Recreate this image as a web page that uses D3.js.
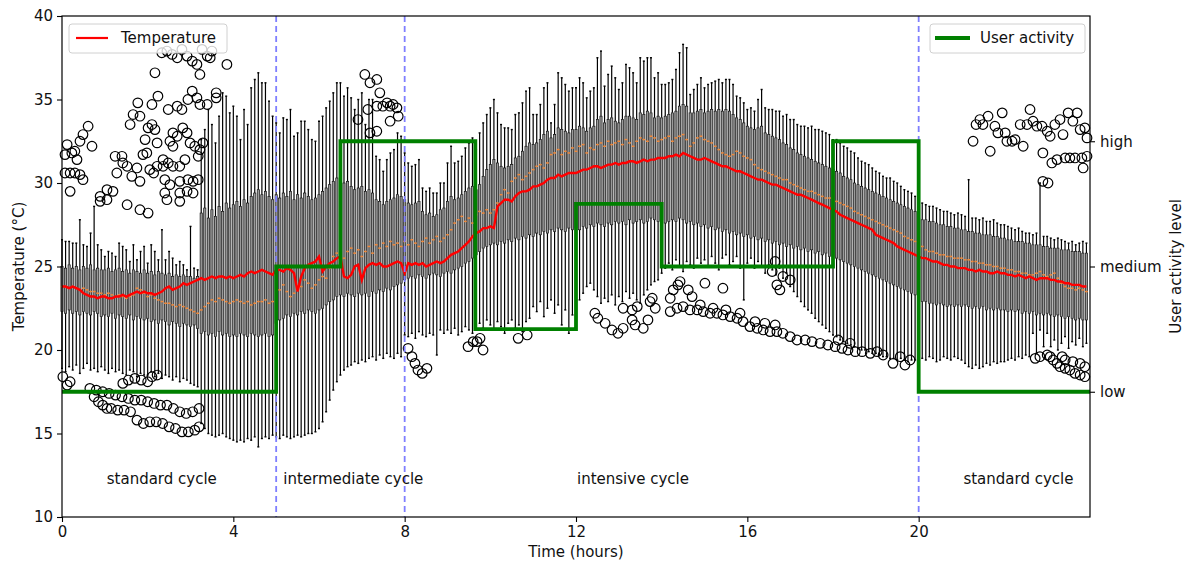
<!DOCTYPE html>
<html>
<head>
<meta charset="utf-8">
<script src="https://cdn.jsdelivr.net/npm/d3@7"></script>
<style>
body { margin: 0; background: #fff; }
text { font-family: "DejaVu Sans", sans-serif; }
</style>
</head>
<body>
<div id="chart"></div>
<script>
var svgWidth = 1188;
var svgHeight = 564;

var margin = { top: 16, right: 98, bottom: 47, left: 62 };
var width = svgWidth - margin.left - margin.right;
var height = svgHeight - margin.top - margin.bottom;

// ---- data (one box every 5 minutes, 12 per hour row) ----
const hourTicks = [0, 4, 8, 12, 16, 20];
const tempTicks = [10, 15, 20, 25, 30, 35, 40];
const activityNames = ["low", "medium", "high"];

const whiskerHigh = [
  26.6,26.5,26.5,26.4,26.4,27.8,26.3,26.2,27.0,28.6,26.3,26.0,
  25.6,25.9,25.8,25.6,26.4,26.2,26.0,25.3,26.3,25.4,25.9,26.2,
  25.2,26.3,25.9,25.4,27.2,25.4,25.9,25.5,25.1,25.3,25.1,24.8,
  27.4,24.9,24.8,32.6,33.2,34.4,33.5,32.4,34.0,35.4,35.2,34.2,
  34.6,34.0,32.6,34.4,33.5,35.7,36.2,36.6,36.0,36.0,34.9,34.0,
  33.6,33.0,33.9,33.8,34.4,32.8,33.0,33.7,33.7,33.2,32.6,32.5,
  33.7,34.0,34.5,34.9,35.4,36.0,36.0,35.2,35.7,35.1,34.4,35.0,
  35.4,33.5,35.0,35.0,31.6,31.4,30.7,31.4,31.8,32.0,33.0,32.8,
  31.8,31.2,31.0,31.1,31.4,29.7,29.5,29.7,29.4,29.4,30.0,30.0,
  31.2,32.2,31.2,31.3,31.6,32.1,32.4,32.7,32.0,33.0,33.6,34.1,
  34.5,35.0,34.2,33.5,33.3,33.3,33.2,34.1,34.2,34.8,35.5,35.7,
  34.1,34.1,34.7,35.7,36.0,33.6,34.7,36.6,36.3,35.9,35.5,35.7,
  35.7,36.3,36.0,35.1,35.5,35.7,37.5,37.9,35.8,36.5,37.0,36.3,
  35.6,36.0,37.1,36.9,36.6,36.0,37.5,37.3,37.5,37.5,36.3,36.6,
  35.9,35.9,36.0,36.2,36.8,37.8,38.3,38.1,35.3,35.6,35.9,36.3,
  35.7,35.9,36.0,36.1,36.2,36.0,36.2,36.2,35.9,35.2,35.1,34.8,
  34.4,34.5,34.3,35.0,35.6,34.5,34.4,34.4,34.3,34.3,34.0,34.1,
  33.8,33.8,33.5,33.4,33.4,33.3,33.4,33.2,33.2,33.1,33.0,32.9,
  32.6,32.6,32.4,32.2,32.1,31.9,31.8,31.5,31.3,31.2,31.1,30.9,
  30.7,30.6,30.4,30.3,30.3,30.1,30.0,29.8,29.6,29.5,29.4,29.2,
  28.9,28.8,28.7,28.6,28.6,28.5,28.4,28.3,28.3,28.2,28.1,28.2,
  28.1,28.0,30.2,27.9,27.9,27.8,27.9,27.7,27.7,27.8,27.6,27.5,
  27.5,27.4,27.3,27.2,27.3,27.1,27.0,27.0,26.9,27.0,30.0,26.8,
  26.8,26.7,26.6,26.7,26.6,26.5,26.4,26.5,26.3,26.4,26.5,26.4
];

const quartile3 = [
  25.0,24.9,25.1,24.9,25.0,24.8,25.0,24.9,25.1,24.8,24.9,24.8,
  24.8,24.9,24.7,24.8,24.9,24.7,24.8,24.6,24.8,24.7,24.6,24.8,
  24.6,24.7,24.5,24.7,24.6,24.5,24.6,24.4,24.5,24.4,24.5,24.4,
  24.4,24.3,24.4,28.2,28.5,27.9,28.4,28.0,28.6,28.3,28.8,28.5,
  28.7,28.9,28.6,29.0,28.8,29.2,29.4,29.6,29.3,29.5,29.2,29.0,
  29.3,29.1,29.4,29.2,29.5,29.0,29.3,29.1,29.4,29.2,29.0,29.1,
  29.3,29.5,29.7,29.9,30.1,30.3,30.2,30.0,30.1,29.8,29.6,29.7,
  29.8,29.5,29.6,29.4,29.0,28.9,28.7,28.9,29.0,29.1,29.3,29.2,
  29.0,28.8,28.7,28.8,28.9,28.3,28.1,28.2,28.0,28.1,28.4,28.5,
  28.9,29.2,29.0,29.1,29.3,29.5,29.7,29.8,29.6,29.9,30.4,30.8,
  31.1,31.4,31.2,31.0,30.9,31.0,31.1,31.5,31.6,31.9,32.2,32.4,
  32.3,32.4,32.6,32.9,33.1,32.7,32.9,33.3,33.2,33.1,33.0,33.2,
  33.2,33.4,33.3,33.1,33.3,33.4,33.8,34.0,33.6,33.8,33.9,33.7,
  33.6,33.8,34.0,34.0,33.9,33.8,34.2,34.1,34.3,34.2,33.9,34.0,
  33.9,34.0,34.1,34.2,34.3,34.6,34.7,34.6,34.2,34.2,34.3,34.4,
  34.2,34.3,34.4,34.3,34.4,34.3,34.4,34.3,34.1,33.9,33.8,33.6,
  33.4,33.3,33.2,33.3,33.4,33.0,32.9,32.8,32.7,32.6,32.4,32.3,
  32.1,32.0,31.8,31.7,31.6,31.5,31.4,31.3,31.2,31.1,31.0,30.9,
  30.8,30.7,30.6,30.4,30.3,30.2,30.0,29.9,29.8,29.7,29.6,29.5,
  29.4,29.3,29.2,29.1,29.0,28.9,28.8,28.7,28.6,28.5,28.4,28.3,
  27.9,27.8,27.8,27.7,27.7,27.6,27.5,27.5,27.4,27.4,27.3,27.3,
  27.2,27.2,27.1,27.1,27.0,27.0,26.9,26.9,26.9,26.8,26.8,26.7,
  26.7,26.6,26.6,26.5,26.5,26.5,26.4,26.4,26.3,26.3,26.3,26.2,
  26.2,26.1,26.1,26.1,26.0,26.0,26.0,25.9,25.9,25.9,25.8,25.8
];

const median = [
  23.8,23.8,23.7,23.8,23.7,23.6,23.7,23.6,23.5,23.5,23.4,23.4,
  23.3,23.4,23.3,23.2,23.3,23.2,23.1,23.2,23.3,23.7,23.6,23.4,
  23.2,23.3,23.1,23.0,22.9,22.8,22.8,22.7,22.6,22.7,22.6,22.5,
  22.4,22.3,22.2,22.4,22.6,22.8,23.0,22.9,23.1,23.0,22.9,22.8,
  22.9,23.0,22.9,22.8,22.9,22.7,22.8,22.9,22.9,23.0,22.8,22.9,
  23.0,23.6,23.9,23.5,23.2,23.4,23.6,23.8,24.2,24.0,23.7,23.9,
  24.2,24.4,24.3,24.9,25.6,25.8,25.7,25.5,25.9,26.1,25.8,26.0,
  25.6,25.9,26.2,25.8,26.3,26.1,26.4,26.2,26.5,26.3,26.4,26.2,
  26.5,26.3,26.6,26.4,26.2,26.5,26.7,26.4,26.6,26.8,26.5,26.7,
  26.9,27.2,27.6,27.8,28.0,27.7,27.9,27.6,28.1,28.3,28.2,28.4,
  28.2,28.4,28.8,29.3,29.6,29.4,30.1,30.3,30.5,30.2,30.4,30.6,
  30.8,31.0,31.1,30.9,31.2,31.7,31.8,32.0,31.7,31.9,31.8,32.1,
  31.9,32.2,32.3,31.8,32.1,32.0,32.3,32.4,32.2,32.5,32.3,32.4,
  32.5,32.3,32.6,32.4,32.2,32.5,32.7,32.6,32.5,32.8,32.7,32.5,
  32.6,32.7,32.8,32.5,32.7,32.8,32.9,32.6,32.2,32.4,32.7,32.8,
  32.6,32.5,32.4,32.2,32.0,31.8,31.7,31.6,31.7,31.9,31.8,31.6,
  31.5,31.4,31.1,30.9,30.8,30.7,30.6,30.5,30.4,30.3,30.2,30.2,
  30.0,29.9,29.8,29.7,29.6,29.5,29.5,29.4,29.3,29.2,29.1,29.1,
  29.0,28.9,28.8,28.7,28.6,28.5,28.3,28.2,28.1,28.0,27.9,27.8,
  27.7,27.6,27.5,27.4,27.3,27.2,27.1,27.0,26.8,26.7,26.6,26.5,
  26.3,26.2,26.0,25.9,25.9,25.8,25.7,25.7,25.6,25.6,25.5,25.5,
  25.5,25.4,25.4,25.3,25.3,25.2,25.2,25.1,25.1,25.0,25.0,24.9,
  24.9,24.8,24.8,24.7,24.7,24.6,24.6,24.5,24.5,24.6,24.7,24.5,
  24.4,24.5,24.6,24.3,24.0,23.8,23.7,23.7,23.6,23.7,23.6,23.5
];

const quartile1 = [
  22.3,22.2,22.4,22.2,22.3,22.1,22.3,22.2,22.1,22.3,22.2,22.0,
  22.1,22.0,22.2,21.9,22.1,22.0,21.9,22.1,21.8,22.0,21.9,21.8,
  21.9,21.7,21.8,21.6,21.8,21.7,21.5,21.7,21.6,21.4,21.6,21.5,
  21.4,21.5,21.3,21.0,21.1,20.9,21.0,20.8,21.1,20.9,21.0,20.8,
  20.9,20.8,21.0,20.9,20.8,21.0,20.9,20.8,20.9,21.0,20.8,20.9,
  21.6,21.8,21.9,22.1,22.0,22.2,22.1,22.3,22.2,22.4,22.3,22.2,
  22.4,22.5,22.7,22.9,23.0,23.2,23.3,23.2,23.4,23.3,23.2,23.4,
  23.3,23.4,23.2,23.5,23.4,23.6,23.5,23.7,23.6,23.8,23.9,24.0,
  24.2,24.3,24.4,24.3,24.5,24.4,24.3,24.5,24.6,24.5,24.4,24.6,
  24.7,24.6,24.8,24.9,25.0,25.2,25.3,25.5,25.7,25.9,26.1,26.2,
  26.3,26.4,26.3,26.5,26.4,26.6,26.5,26.7,26.6,26.8,26.7,26.9,
  26.8,27.0,26.9,27.1,27.0,27.2,27.1,27.3,27.2,27.1,27.3,27.2,
  27.3,27.2,27.4,27.3,27.5,27.4,27.6,27.5,27.4,27.6,27.5,27.7,
  27.6,27.7,27.5,27.8,27.6,27.7,27.8,27.6,27.7,27.9,27.8,27.7,
  27.8,27.6,27.7,27.8,27.7,27.9,27.8,27.6,27.7,27.5,27.6,27.4,
  27.5,27.3,27.4,27.2,27.3,27.1,27.2,27.0,27.1,26.9,27.0,26.8,
  26.9,26.7,26.8,26.6,26.7,26.5,26.6,26.4,26.5,26.3,26.4,26.2,
  26.3,26.1,26.2,26.0,26.1,25.9,26.0,25.8,25.9,25.7,25.8,25.6,
  25.6,25.5,25.4,25.3,25.2,25.1,25.0,24.9,24.8,24.7,24.6,24.5,
  24.4,24.3,24.2,24.1,24.0,23.9,23.8,23.7,23.6,23.5,23.4,23.3,
  23.0,22.9,22.9,22.8,22.8,22.7,22.8,22.7,22.6,22.7,22.6,22.7,
  22.6,22.7,22.6,22.5,22.6,22.5,22.6,22.4,22.5,22.4,22.5,22.4,
  22.4,22.3,22.4,22.3,22.4,22.2,22.3,22.2,22.3,22.1,22.2,22.1,
  22.2,22.1,22.0,22.1,22.0,21.9,22.0,21.9,21.8,21.9,21.8,21.8
];

const whiskerLow = [
  18.9,18.7,19.0,18.8,19.1,18.6,18.9,19.2,18.8,18.9,18.7,19.0,
  18.8,18.6,18.9,18.7,18.8,18.6,18.5,18.8,18.7,18.4,18.6,18.5,
  18.5,18.7,18.4,18.6,18.3,18.5,18.4,18.2,18.4,18.1,18.3,18.2,
  18.0,17.9,17.8,15.6,15.3,15.0,14.9,14.8,14.9,15.0,14.8,14.7,
  14.6,14.5,14.6,14.5,14.7,14.6,14.8,14.2,14.7,14.8,14.7,14.9,
  14.8,14.7,14.9,14.8,14.7,14.8,14.9,14.8,14.9,15.0,15.0,15.1,
  15.3,15.7,16.3,17.0,17.6,18.1,18.5,18.8,19.0,19.1,19.3,19.2,
  19.4,19.3,19.5,19.6,19.4,19.7,19.5,19.8,19.6,19.5,19.8,19.6,
  20.9,20.8,21.0,20.7,21.1,20.9,20.8,21.0,20.9,19.7,21.2,21.0,
  21.2,21.0,21.3,20.9,21.1,21.4,21.2,21.0,21.5,21.6,21.3,21.8,
  21.5,21.2,21.7,21.4,21.0,21.6,21.8,21.3,21.5,21.1,21.7,21.9,
  22.6,22.3,22.9,22.0,22.5,23.0,22.2,22.7,21.5,22.4,21.0,22.1,
  22.6,23.0,23.4,23.8,24.0,23.6,23.2,22.8,23.1,22.9,23.3,22.7,
  23.2,22.9,23.5,23.1,23.4,23.0,22.8,23.3,23.6,23.9,24.1,24.2,
  24.6,24.9,25.2,24.8,25.4,25.0,24.7,25.3,25.1,24.9,25.5,25.2,
  25.4,25.0,25.6,25.2,24.8,25.5,25.7,25.1,25.3,25.6,24.9,23.0,
  25.2,25.5,24.9,25.3,25.0,24.6,25.1,24.8,24.5,24.9,24.3,24.6,
  23.8,23.5,23.2,22.9,22.6,22.4,22.2,21.9,21.7,21.5,21.3,21.1,
  20.9,20.8,20.6,20.5,20.4,20.3,20.2,20.1,20.0,20.0,19.9,19.8,
  19.8,19.7,19.6,19.6,19.5,19.5,19.4,19.5,19.4,19.3,19.4,19.4,
  19.6,19.5,19.4,19.6,19.5,19.3,19.4,19.6,19.5,19.4,19.6,19.5,
  19.4,19.2,19.0,18.9,19.1,18.9,19.0,19.2,19.1,19.3,19.2,19.3,
  19.3,19.4,19.5,19.4,19.6,19.5,19.7,19.6,21.0,19.8,21.2,20.2,
  21.0,20.2,20.6,20.0,20.4,20.8,20.1,20.5,20.3,20.7,20.2,20.4
];

// mean temperature (red line)
const meanTemp = [
  23.8,23.8,23.7,23.8,23.7,23.6,23.4,23.3,23.2,23.2,23.1,23.2,
  23.2,23.1,23.1,23.2,23.2,23.3,23.2,23.3,23.4,23.5,23.4,23.5,
  23.4,23.4,23.3,23.4,23.5,23.7,23.8,23.6,23.7,23.8,24.0,23.9,
  24.0,24.1,24.2,24.3,24.2,24.3,24.4,24.3,24.4,24.4,24.3,24.4,
  24.3,24.4,24.5,24.4,24.6,24.7,24.6,24.7,24.8,24.7,24.6,24.5,
  24.8,24.8,24.7,24.9,24.8,24.6,23.5,24.4,24.9,25.1,25.2,25.3,
  25.6,24.7,25.0,25.2,25.3,25.5,25.6,24.4,24.3,24.5,25.0,25.1,
  24.2,24.9,25.1,25.2,25.1,25.2,25.0,25.0,25.1,25.2,25.3,25.2,
  24.6,25.2,25.1,25.2,25.1,25.2,25.0,25.1,25.2,25.3,25.2,25.3,
  25.5,25.7,25.8,25.9,26.1,26.3,26.5,26.8,27.0,27.1,27.3,27.3,
  27.4,27.3,28.6,28.8,29.0,29.0,28.9,29.2,29.4,29.5,29.5,29.6,
  29.8,29.8,29.9,30.0,30.2,30.3,30.3,30.5,30.4,30.5,30.6,30.6,
  30.6,30.7,30.8,30.8,30.9,31.0,31.0,30.9,31.0,31.1,31.1,31.2,
  31.1,31.2,31.2,31.3,31.3,31.2,31.3,31.4,31.3,31.4,31.4,31.5,
  31.5,31.5,31.6,31.6,31.7,31.6,31.8,31.7,31.6,31.5,31.4,31.4,
  31.5,31.4,31.3,31.2,31.1,31.0,31.0,30.9,30.8,30.7,30.7,30.6,
  30.5,30.4,30.3,30.2,30.2,30.1,30.0,29.9,29.9,29.8,29.7,29.6,
  29.5,29.4,29.3,29.3,29.2,29.1,29.0,28.9,28.8,28.7,28.6,28.5,
  28.4,28.3,28.1,28.0,27.9,27.8,27.7,27.6,27.5,27.4,27.3,27.2,
  26.9,26.8,26.7,26.6,26.5,26.4,26.2,26.1,26.0,25.9,25.8,25.7,
  25.6,25.5,25.5,25.4,25.3,25.3,25.2,25.1,25.1,25.0,25.0,24.9,
  24.9,24.9,24.8,24.8,24.7,24.8,24.7,24.7,24.6,24.6,24.7,24.6,
  24.6,24.5,24.5,24.4,24.5,24.4,24.3,24.4,24.3,24.2,24.3,24.3,
  24.3,24.2,24.2,24.1,24.1,24.0,24.0,23.9,23.9,23.9,23.8,23.8
];

// outliers [hour, temperature]
const fliers = [
  [0.12,32.3],[0.07,31.7],[0.23,31.8],[0.35,31.4],[0.30,31.9],[0.07,30.6],[0.19,30.6],[0.30,30.6],[0.42,30.5],
  [0.49,30.2],[0.19,29.5],[0.42,32.5],[0.49,32.9],[0.61,33.4],[0.70,32.2],[0.89,29.2],[1.05,29.6],[1.19,29.5],
  [1.28,30.6],[1.24,31.6],[1.40,31.6],[1.42,31.2],[1.52,31.0],[1.59,33.5],[1.66,34.1],[1.77,34.8],[1.82,34.0],
  [1.63,30.4],[1.75,30.9],[1.82,30.1],[1.89,31.7],[1.98,31.8],[1.94,32.6],[2.01,33.3],[2.10,33.5],[2.17,33.2],
  [2.10,34.7],[2.24,35.2],[2.22,32.4],[2.17,36.6],[2.33,37.8],[2.45,37.9],[2.57,37.7],[2.69,37.5],[2.80,38.0],
  [2.92,37.6],[3.04,37.3],[3.15,37.1],[3.22,36.5],[3.27,38.0],[3.39,37.6],[3.50,37.9],[3.46,37.5],[3.85,37.1],
  [3.60,35.4],[3.60,35.1],[2.48,34.4],[2.69,34.6],[2.80,34.4],[2.94,35.0],[3.04,35.5],[3.15,35.1],[3.22,34.7],
  [3.39,34.7],[2.59,33.0],[2.69,32.8],[2.82,33.3],[2.92,33.0],[2.99,32.4],[3.10,32.2],[3.22,32.0],[3.29,32.4],
  [3.18,31.6],[2.52,32.5],[2.59,32.2],[2.36,31.4],[2.48,31.2],[2.59,31.0],[2.75,31.0],[2.87,31.4],[2.36,31.0],
  [2.40,30.2],[2.52,29.9],[2.75,30.1],[2.94,30.2],[3.06,30.1],[3.18,30.2],[2.92,29.5],[3.06,29.4],[2.75,29.4],
  [2.40,29.4],[2.14,30.6],[2.22,31.0],[2.05,30.8],[0.89,28.9],[1.05,29.0],[1.52,28.7],[1.82,28.4],[2.01,28.2],
  [2.45,29.0],[2.75,28.9],
  [0.02,18.4],[0.19,18.1],[0.12,17.9],
  [0.65,17.7],[0.80,17.6],[0.95,17.5],[1.10,17.4],[1.25,17.3],[1.40,17.2],[1.55,17.1],[1.70,17.0],[1.85,17.0],
  [2.00,16.9],[2.15,16.8],[2.30,16.7],[2.45,16.7],[2.60,16.5],[2.75,16.3],[2.90,16.2],[3.05,16.3],[3.20,16.5],
  [0.75,17.2],[0.85,16.9],[0.95,16.7],[1.05,16.5],[1.15,16.5],[1.30,16.4],[1.45,16.4],[1.60,16.3],[1.75,15.8],
  [1.90,15.6],[2.05,15.7],[2.20,15.7],[2.35,15.6],[2.50,15.4],[2.65,15.3],[2.80,15.1],[2.95,15.1],[3.10,15.2],
  [3.20,15.4],[1.42,18.0],[1.55,18.2],[1.70,18.3],[1.85,18.2],[2.00,18.1],[2.10,18.4],[2.22,18.5],
  [7.07,36.5],[7.19,36.0],[7.35,36.2],[7.42,35.4],[7.14,34.4],[6.91,33.8],[7.35,34.6],[7.49,34.6],[7.59,34.8],
  [7.66,34.6],[7.82,34.5],[7.85,34.0],[7.66,33.7],[7.19,33.0],[7.35,33.1],[7.73,34.7],
  [8.08,20.1],[8.17,19.6],[8.24,19.2],[8.31,18.8],[8.41,18.6],[8.52,18.9],[9.48,20.2],[9.60,20.5],[9.69,20.5],
  [9.76,20.7],[9.83,20.0],[10.65,20.7],[10.86,20.9],
  [12.44,22.2],[12.51,21.9],[12.68,21.6],[12.84,21.2],[12.98,21.0],[13.10,21.3],[13.10,22.5],[13.31,22.4],
  [13.43,22.6],[13.31,21.8],[13.38,21.5],[13.57,21.3],[13.68,21.8],[13.73,22.9],[13.78,23.1],[13.85,22.5],
  [14.20,23.1],[14.27,23.6],[14.38,23.9],[14.43,24.1],[14.62,23.6],[14.71,23.2],[14.20,22.3],[14.36,22.5],
  [14.50,22.6],[14.66,22.4],[14.83,22.4],[14.97,22.3],[15.13,22.2],[15.29,22.2],[15.43,22.1],[15.60,22.0],
  [15.76,21.9],[15.90,21.7],[16.06,21.4],[16.23,21.3],[16.37,21.2],[16.53,21.1],[16.69,21.1],[16.83,21.0],
  [17.00,20.8],[17.16,20.6],[14.90,22.7],[15.20,22.5],[15.50,22.4],[15.83,22.2],[16.18,21.7],[16.41,21.6],
  [16.65,21.5],[15.01,24.0],[15.43,23.7],[16.65,25.3],[16.58,24.7],[16.83,24.4],[17.00,24.2],[16.69,23.9],
  [16.76,23.6],
  [17.35,20.6],[17.51,20.5],[17.70,20.4],[17.88,20.3],[18.05,20.2],[18.21,20.1],[18.35,20.0],[18.52,19.9],
  [18.68,19.9],[18.87,19.8],[19.03,19.9],[19.17,19.7],[19.40,19.2],[19.57,19.6],[19.68,19.1],[19.80,19.4],
  [18.12,20.6],[18.40,20.4],
  [21.27,32.5],[21.34,33.5],[21.43,33.8],[21.50,33.5],[21.62,34.0],[21.67,31.9],[21.78,33.4],[21.85,33.0],
  [21.95,34.2],[22.02,33.0],[22.06,32.5],[22.18,32.5],[22.25,32.6],[22.37,33.5],[22.44,32.2],[22.53,33.5],
  [22.60,34.4],[22.67,33.7],[22.76,33.4],[22.88,33.4],[22.90,31.8],[23.00,33.1],[23.07,32.8],[23.11,31.2],
  [23.18,33.5],[23.23,31.4],[23.30,33.8],[23.37,32.9],[23.42,31.5],[23.49,34.2],[23.53,31.5],[23.60,33.7],
  [23.65,31.5],[23.70,34.2],[23.77,33.2],[23.81,31.5],[23.84,30.9],[23.88,33.3],[23.93,32.7],[23.93,31.6],
  [22.90,30.1],[23.02,30.0],
  [22.72,19.5],[22.83,19.6],[23.00,19.7],[23.07,19.6],[23.14,19.4],[23.23,19.2],[23.30,19.0],[23.42,18.9],
  [23.53,18.8],[23.65,18.6],[23.77,18.5],[23.88,18.4],[23.60,19.3],[23.77,19.2],[23.88,19.0],[23.42,19.4],
  [23.35,19.6]
];

// user activity steps (0 = low, 1 = medium, 2 = high)
const activityHours = [0, 5, 6.5, 9.65, 12, 14, 18, 20, 24];
const activityLevels = [0, 1, 2, 0.5, 1.5, 1, 2, 0, 0];

// cycle boundaries and names
const cycleBounds = [5, 8, 20];
const cycleNames = ["standard cycle", "intermediate cycle", "intensive cycle", "standard cycle"];
const cycleMidHours = [2.33, 6.8, 13.33, 22.33];

// ---- chart ----
var svg = d3.select("#chart")
    .append("svg")
    .attr("width", svgWidth)
    .attr("height", svgHeight);

const chartGroup = svg.append("g")
    .attr("transform", `translate(${margin.left}, ${margin.top})`);

var xScale = d3.scaleLinear().domain([0, 24]).range([0, width]);
var yScale = d3.scaleLinear().domain([10, 40]).range([height, 0]);
var yActivity = d3.scaleLinear().domain([-1, 3]).range([height, 0]);

// boxes, 5 minutes apart
var boxes = whiskerHigh.map((hi, i) => ({
    hour: i / 12,
    lo: whiskerLow[i], q1: quartile1[i], med: median[i], q3: quartile3[i], hi: hi
}));

var boxW = 2.2;
var boxGroup = chartGroup.append("g");

boxGroup.selectAll("line.whiskerLo")
    .data(boxes).enter().append("line")
    .attr("x1", d => xScale(d.hour)).attr("x2", d => xScale(d.hour))
    .attr("y1", d => yScale(d.lo)).attr("y2", d => yScale(d.q1))
    .attr("stroke", "#000").attr("stroke-width", 1.2);

boxGroup.selectAll("line.whiskerHi")
    .data(boxes).enter().append("line")
    .attr("x1", d => xScale(d.hour)).attr("x2", d => xScale(d.hour))
    .attr("y1", d => yScale(d.q3)).attr("y2", d => yScale(d.hi))
    .attr("stroke", "#000").attr("stroke-width", 1.2);

boxGroup.selectAll("rect")
    .data(boxes).enter().append("rect")
    .attr("x", d => xScale(d.hour) - boxW / 2)
    .attr("width", boxW)
    .attr("y", d => yScale(d.q3))
    .attr("height", d => yScale(d.q1) - yScale(d.q3))
    .attr("fill", "#9a9a9a")
    .attr("stroke", "#111").attr("stroke-width", 0.7);

["lo", "hi"].forEach(k => {
    boxGroup.selectAll("line.cap" + k)
        .data(boxes).enter().append("line")
        .attr("x1", d => xScale(d.hour) - 1).attr("x2", d => xScale(d.hour) + 1)
        .attr("y1", d => yScale(d[k])).attr("y2", d => yScale(d[k]))
        .attr("stroke", "#000").attr("stroke-width", 1.4);
});

boxGroup.selectAll("line.median")
    .data(boxes).enter().append("line")
    .attr("x1", d => xScale(d.hour) - boxW / 2 - 0.3)
    .attr("x2", d => xScale(d.hour) + boxW / 2 + 0.3)
    .attr("y1", d => yScale(d.med)).attr("y2", d => yScale(d.med))
    .attr("stroke", "#f0883a").attr("stroke-width", 1.5);

// outliers
chartGroup.append("g").selectAll("circle")
    .data(fliers).enter().append("circle")
    .attr("cx", d => xScale(d[0]))
    .attr("cy", d => yScale(d[1]))
    .attr("r", 4.8)
    .attr("fill", "none")
    .attr("stroke", "#000")
    .attr("stroke-width", 1.2);

// mean temperature
var meanLine = d3.line()
    .x((d, i) => xScale(i / 12))
    .y(d => yScale(d));

chartGroup.append("path")
    .datum(meanTemp)
    .attr("d", meanLine)
    .attr("fill", "none")
    .attr("stroke", "#ff0000")
    .attr("stroke-width", 2.4);

// cycle boundaries
chartGroup.selectAll("line.bound")
    .data(cycleBounds).enter().append("line")
    .attr("x1", d => xScale(d)).attr("x2", d => xScale(d))
    .attr("y1", 0).attr("y2", height)
    .attr("stroke", "#7f7fff")
    .attr("stroke-width", 1.8)
    .attr("stroke-dasharray", "6,4");

chartGroup.selectAll("text.cycle")
    .data(cycleNames).enter().append("text")
    .attr("x", (d, i) => xScale(cycleMidHours[i]))
    .attr("y", yScale(12.25))
    .attr("text-anchor", "middle")
    .attr("dominant-baseline", "central")
    .attr("font-size", "15px")
    .attr("fill", "#111")
    .text(d => d);

// axes
var bottomAxis = d3.axisBottom(xScale).tickValues(hourTicks).tickSize(5).tickPadding(4).tickSizeOuter(0);
var leftAxis = d3.axisLeft(yScale).tickValues(tempTicks).tickSize(5).tickPadding(4).tickSizeOuter(0);
var rightAxis = d3.axisRight(yActivity).tickValues([0, 1, 2]).tickFormat(d => activityNames[d])
    .tickSize(5).tickPadding(5).tickSizeOuter(0);

chartGroup.append("g").attr("transform", `translate(0, ${height})`).call(bottomAxis);
chartGroup.append("g").call(leftAxis);
chartGroup.append("g").attr("transform", `translate(${width}, 0)`).call(rightAxis);

chartGroup.selectAll(".tick text").attr("font-size", "15px").attr("fill", "#111")
    .attr("font-family", "DejaVu Sans");
chartGroup.selectAll(".tick line").attr("stroke-width", 1.1);
chartGroup.selectAll(".domain").remove();

// left legend
var legL = chartGroup.append("g").attr("transform", "translate(7, 8)");
legL.append("rect").attr("width", 158).attr("height", 29).attr("rx", 3)
    .attr("fill", "#fff").attr("fill-opacity", 0.8).attr("stroke", "#d0d0d0");
legL.append("line").attr("x1", 7).attr("x2", 39).attr("y1", 14).attr("y2", 14)
    .attr("stroke", "#ff0000").attr("stroke-width", 2.2);
legL.append("text").attr("x", 52).attr("y", 14).attr("dominant-baseline", "central")
    .attr("font-size", "15px").attr("fill", "#111").text("Temperature");

// user activity (twin axis)
var stepLine = d3.line()
    .x((d, i) => xScale(activityHours[i]))
    .y(d => yActivity(d))
    .curve(d3.curveStepAfter);

chartGroup.append("path")
    .datum(activityLevels)
    .attr("d", stepLine)
    .attr("fill", "none")
    .attr("stroke", "#008000")
    .attr("stroke-width", 3.8);

var legR = chartGroup.append("g").attr("transform", "translate(868, 8)");
legR.append("rect").attr("width", 155).attr("height", 29).attr("rx", 3)
    .attr("fill", "#fff").attr("fill-opacity", 0.8).attr("stroke", "#d0d0d0");
legR.append("line").attr("x1", 5).attr("x2", 40).attr("y1", 14).attr("y2", 14)
    .attr("stroke", "#008000").attr("stroke-width", 4);
legR.append("text").attr("x", 50).attr("y", 14).attr("dominant-baseline", "central")
    .attr("font-size", "15px").attr("fill", "#111").text("User activity");

// frame
chartGroup.append("rect")
    .attr("width", width).attr("height", height)
    .attr("fill", "none").attr("stroke", "#000").attr("stroke-width", 1.2);

// axis titles
svg.append("text")
    .attr("transform", `translate(19, ${margin.top + height / 2}) rotate(-90)`)
    .attr("text-anchor", "middle").attr("dominant-baseline", "central")
    .attr("font-size", "15px").attr("fill", "#111")
    .text("Temperature (°C)");

svg.append("text")
    .attr("x", margin.left + width / 2).attr("y", 552)
    .attr("text-anchor", "middle").attr("dominant-baseline", "central")
    .attr("font-size", "15px").attr("fill", "#111")
    .text("Time (hours)");

svg.append("text")
    .attr("transform", `translate(1176, ${margin.top + height / 2}) rotate(-90)`)
    .attr("text-anchor", "middle").attr("dominant-baseline", "central")
    .attr("font-size", "15px").attr("fill", "#111")
    .text("User activity level");
</script>
</body>
</html>
